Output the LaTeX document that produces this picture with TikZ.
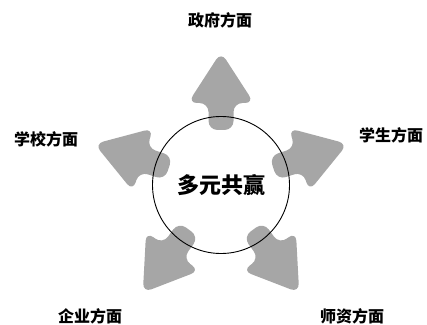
\documentclass[tikz,border=0pt]{standalone}
\usepackage{fontspec}
\setmainfont{Noto Sans CJK SC}

\begin{document}
\begin{tikzpicture}[x=1pt,y=1pt,
    fatarrow/.pic={
      \fill[black!35, rounded corners=9pt] (55,-12.5) -- (82,-12.5) -- (82,-33) -- (133,0)
        -- (82,33) -- (82,12.5) -- (55,12.5) -- cycle;
    },
    side/.style={font=\fontsize{16}{16}\selectfont\bfseries}]
  \useasboundingbox (0,0) rectangle (427,324);
  \coordinate (c) at (221,139);

  \pic[rotate=90] at (c) {fatarrow};
  \pic[rotate=18] at (c) {fatarrow};
  \pic[rotate=-54] at (c) {fatarrow};
  \pic[rotate=-126] at (c) {fatarrow};
  \pic[rotate=162] at (c) {fatarrow};

  \node[draw, circle, line width=0.9pt, minimum size=137pt, inner sep=0pt,
    font=\fontsize{22}{22}\selectfont\bfseries] (hub) at (c) {多元共赢};

  \node[side] (gov) at (220,304) {政府方面};
  \node[side] (stu) at (391,189) {学生方面};
  \node[side] (tea) at (352,8) {师资方面};
  \node[side] (ent) at (90,8) {企业方面};
  \node[side] (school) at (46,185) {学校方面};
\end{tikzpicture}
\end{document}
